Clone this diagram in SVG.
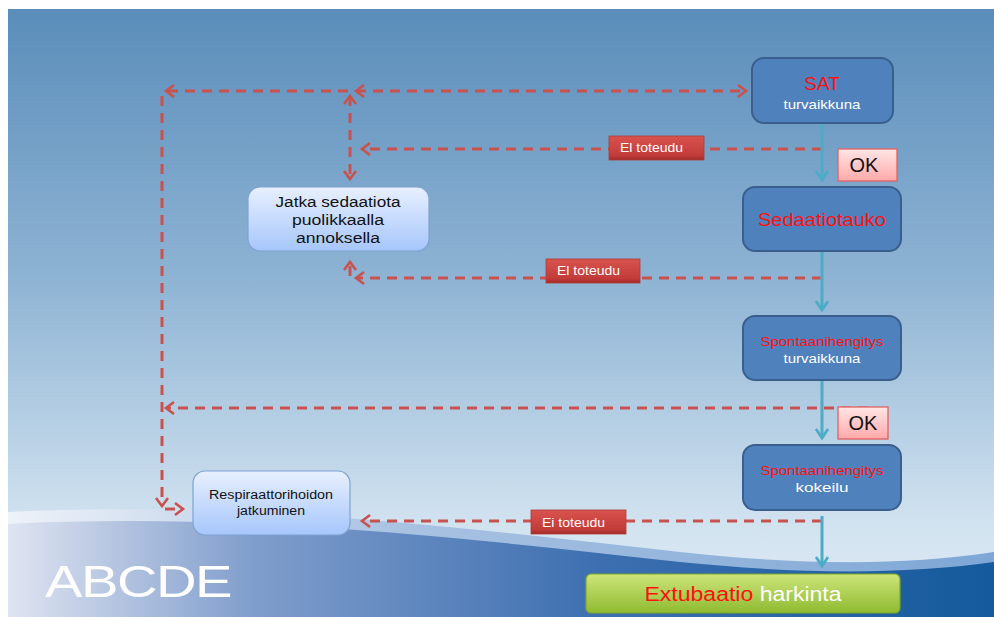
<svg xmlns="http://www.w3.org/2000/svg" width="994" height="617" viewBox="0 0 994 617">
  <defs>
    <linearGradient id="sky" x1="0" y1="0" x2="0" y2="1">
      <stop offset="0" stop-color="#5a8dba"/>
      <stop offset="0.45" stop-color="#8fb4d4"/>
      <stop offset="0.85" stop-color="#d2e3f0"/>
      <stop offset="1" stop-color="#dfeaf4"/>
    </linearGradient>
    <linearGradient id="wave" x1="0" y1="0" x2="1" y2="0">
      <stop offset="0" stop-color="#dfe4f1"/>
      <stop offset="0.25" stop-color="#7f9dcc"/>
      <stop offset="0.6" stop-color="#3d6fb0"/>
      <stop offset="1" stop-color="#145a9c"/>
    </linearGradient>
    <linearGradient id="waveHi" x1="0" y1="0" x2="1" y2="0">
      <stop offset="0" stop-color="#eef2f9"/>
      <stop offset="0.4" stop-color="#a9c2e2"/>
      <stop offset="1" stop-color="#7ea7d6"/>
    </linearGradient>
    <linearGradient id="paleBlue" x1="0" y1="0" x2="0" y2="1">
      <stop offset="0" stop-color="#e8f0ff"/>
      <stop offset="1" stop-color="#a6c6fb"/>
    </linearGradient>
    <linearGradient id="pink" x1="0" y1="0" x2="0" y2="1">
      <stop offset="0" stop-color="#ffe6e6"/>
      <stop offset="1" stop-color="#ffa9a9"/>
    </linearGradient>
    <linearGradient id="green" x1="0" y1="0" x2="0" y2="1">
      <stop offset="0" stop-color="#cde57a"/>
      <stop offset="1" stop-color="#8fbb30"/>
    </linearGradient>
    <linearGradient id="redTag" x1="0" y1="0" x2="0" y2="1">
      <stop offset="0" stop-color="#d9524e"/>
      <stop offset="0.8" stop-color="#c23d3a"/>
      <stop offset="1" stop-color="#a32a28"/>
    </linearGradient>
    <marker id="redHead" markerUnits="userSpaceOnUse" markerWidth="16" markerHeight="16" refX="9" refY="7" orient="auto-start-reverse">
      <path d="M1,1 L9,7 L1,13" fill="none" stroke="#c9524f" stroke-width="2.6"/>
    </marker>
    <marker id="tealHead" markerUnits="userSpaceOnUse" markerWidth="18" markerHeight="16" refX="10" refY="7" orient="auto">
      <path d="M1,1 L10,7 L1,13" fill="none" stroke="#4bacc6" stroke-width="2.8"/>
    </marker>
  </defs>
  <style>
    .blue { fill: #4f81bd; stroke: #3a5f8c; stroke-width: 2; }
    .pale { fill: url(#paleBlue); stroke: #7ea2d2; stroke-width: 1.2; }
    .ok { fill: url(#pink); stroke: #e06262; stroke-width: 1.3; }
    .tag { fill: url(#redTag); stroke: #b03a36; stroke-width: 0.8; }
    .dash { fill: none; stroke: #c9524f; stroke-width: 3; stroke-dasharray: 10 7; }
    .teal { fill: none; stroke: #4bacc6; stroke-width: 3; }
    text { font-family: "Liberation Sans", Arial, sans-serif; }
    .red { fill: #ff1010; }
    .white { fill: #ffffff; }
    .black { fill: #111111; }
  </style>

  <!-- page background and slide -->
  <rect width="994" height="617" fill="#ffffff"/>
  <rect x="8" y="9" width="986" height="608" fill="url(#sky)"/>
  <path d="M8 512 C 250 500, 480 530, 680 552 C 800 565, 900 566, 994 552 L994 617 L8 617 Z" fill="url(#waveHi)"/>
  <path d="M8 524 C 250 512, 480 540, 680 562 C 800 574, 900 575, 994 562 L994 617 L8 617 Z" fill="url(#wave)"/>
  <text transform="translate(45 597) scale(1.25 1)" x="0" y="0" font-size="45" font-family="Lato, 'Liberation Sans', sans-serif" font-weight="300" fill="#ffffff" textLength="150" lengthAdjust="spacing">ABCDE</text>

  <!-- connectors -->
  <g id="connectors">
    <path class="dash" d="M356 91 L746 91" marker-start="url(#redHead)" marker-end="url(#redHead)"/>
    <path class="dash" d="M348 91 L166 91" marker-end="url(#redHead)"/>
    <path class="dash" d="M162 96 L162 506" marker-end="url(#redHead)"/>
    <path class="dash" d="M165 509 L183 509" marker-end="url(#redHead)"/>
    <path class="dash" d="M350 96 L350 179" marker-start="url(#redHead)" marker-end="url(#redHead)"/>
    <path class="dash" d="M822 149 L362 149" marker-end="url(#redHead)"/>
    <path class="dash" d="M822 278 L356 278" marker-end="url(#redHead)"/>
    <path class="dash" d="M350 276 L350 262" marker-end="url(#redHead)"/>
    <path class="dash" d="M868 408 L166 408" marker-end="url(#redHead)"/>
    <path class="dash" d="M822 521 L362 521" marker-end="url(#redHead)"/>

    <path class="teal" d="M822 124 L822 180" marker-end="url(#tealHead)"/>
    <path class="teal" d="M822 252 L822 310" marker-end="url(#tealHead)"/>
    <path class="teal" d="M822 381 L822 438" marker-end="url(#tealHead)"/>
    <path class="teal" d="M822 516 L822 566" marker-end="url(#tealHead)"/>

    <g id="tag1">
      <rect class="tag" x="609" y="136" width="95" height="24"/>
      <text class="white" x="620" y="152" font-size="12.5" textLength="63" lengthAdjust="spacingAndGlyphs">El toteudu</text>
    </g>
    <g id="tag2">
      <rect class="tag" x="546" y="259" width="94" height="24"/>
      <text class="white" x="557" y="275" font-size="12.5" textLength="63" lengthAdjust="spacingAndGlyphs">El toteudu</text>
    </g>
    <g id="tag3">
      <rect class="tag" x="531" y="510" width="95" height="24"/>
      <text class="white" x="542" y="527" font-size="12.5" textLength="63" lengthAdjust="spacingAndGlyphs">Ei toteudu</text>
    </g>
  </g>

  <!-- nodes -->
  <g id="sat">
    <rect class="blue" x="752" y="58" width="141" height="65" rx="12"/>
    <text class="red" x="822" y="90" font-size="19" text-anchor="middle">SAT</text>
    <text class="white" x="822" y="109" font-size="13.5" text-anchor="middle" textLength="77" lengthAdjust="spacingAndGlyphs">turvaikkuna</text>
  </g>
  <g id="sedaatiotauko">
    <rect class="blue" x="743" y="187" width="158" height="64" rx="12"/>
    <text class="red" x="822" y="226" font-size="19" text-anchor="middle" textLength="128" lengthAdjust="spacingAndGlyphs">Sedaatiotauko</text>
  </g>
  <g id="spontaani-turva">
    <rect class="blue" x="743" y="316" width="158" height="64" rx="12"/>
    <text class="red" x="822" y="346" font-size="13.5" text-anchor="middle" textLength="123" lengthAdjust="spacingAndGlyphs">Spontaanihengitys</text>
    <text class="white" x="822" y="363" font-size="13.5" text-anchor="middle" textLength="77" lengthAdjust="spacingAndGlyphs">turvaikkuna</text>
  </g>
  <g id="spontaani-kokeilu">
    <rect class="blue" x="743" y="445" width="158" height="65" rx="12"/>
    <text class="red" x="822" y="475" font-size="13.5" text-anchor="middle" textLength="123" lengthAdjust="spacingAndGlyphs">Spontaanihengitys</text>
    <text class="white" x="822" y="492" font-size="13.5" text-anchor="middle" textLength="53" lengthAdjust="spacingAndGlyphs">kokeilu</text>
  </g>
  <g id="extubaatio">
    <rect x="586" y="574" width="314" height="39" rx="5" fill="url(#green)" stroke="#7fa62a" stroke-width="1.2"/>
    <text x="743" y="601" font-size="20" text-anchor="middle" textLength="197" lengthAdjust="spacingAndGlyphs"><tspan class="red">Extubaatio</tspan><tspan class="white"> harkinta</tspan></text>
  </g>
  <g id="ok1">
    <rect class="ok" x="838" y="149" width="59" height="32"/>
    <text class="black" x="864" y="172" font-size="20" text-anchor="middle">OK</text>
  </g>
  <g id="ok2">
    <rect class="ok" x="838" y="407" width="50" height="32"/>
    <text class="black" x="863" y="430" font-size="20" text-anchor="middle">OK</text>
  </g>
  <g id="jatka">
    <rect class="pale" x="248" y="187" width="181" height="64" rx="12"/>
    <text class="black" x="338" y="207" font-size="15.5" text-anchor="middle" textLength="125" lengthAdjust="spacingAndGlyphs">Jatka sedaatiota</text>
    <text class="black" x="338" y="225" font-size="15.5" text-anchor="middle" textLength="92" lengthAdjust="spacingAndGlyphs">puolikkaalla</text>
    <text class="black" x="338" y="243" font-size="15.5" text-anchor="middle" textLength="84" lengthAdjust="spacingAndGlyphs">annoksella</text>
  </g>
  <g id="respiraattori">
    <rect class="pale" x="193" y="471" width="157" height="64" rx="12"/>
    <text class="black" x="271" y="499" font-size="12.5" text-anchor="middle" textLength="124" lengthAdjust="spacingAndGlyphs">Respiraattorihoidon</text>
    <text class="black" x="271" y="515" font-size="12.5" text-anchor="middle" textLength="68" lengthAdjust="spacingAndGlyphs">jatkuminen</text>
  </g>
</svg>
